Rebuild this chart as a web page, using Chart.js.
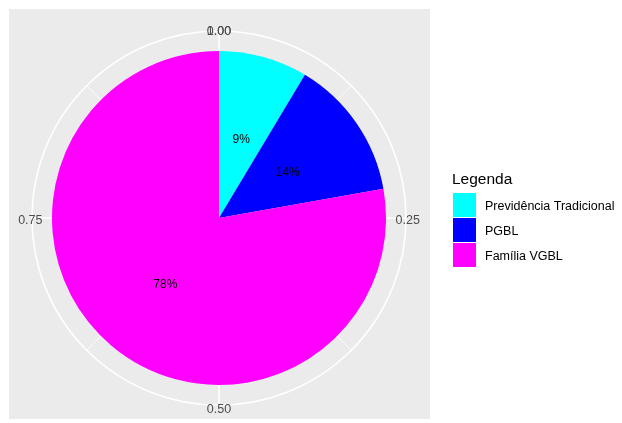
<!DOCTYPE html>
<html>
<head>
<meta charset="utf-8">
<script src="https://cdn.jsdelivr.net/npm/chart.js@4.4.1/dist/chart.umd.min.js"></script>
<style>
  html, body { margin: 0; padding: 0; background: #ffffff; }
  #wrap { width: 622px; height: 423px; position: relative; }
</style>
</head>
<body>
<div id="wrap"><canvas id="c" width="622" height="423"></canvas></div>
<script>
const categories = ["Previdência Tradicional", "PGBL", "Família VGBL"];
const shares = [8.6, 13.6, 77.8];
const percentLabels = ["9%", "14%", "78%"];
const sliceColors = ["#00FFFF", "#0000FF", "#FF00FF"];
const thetaTicks = ["0.00", "0.25", "0.50", "0.75", "1.00"];
const legendTitle = "Legenda";

const FONT = "'Liberation Sans', Arial, Helvetica, sans-serif";
const TEXT_DY = 2.5;

const ggPlugin = {
  id: 'ggpolar',
  beforeDatasetsDraw(chart) {
    const ctx = chart.ctx;
    const meta = chart.getDatasetMeta(0);
    const arc0 = meta.data[0];
    const cx = arc0.x, cy = arc0.y, R = arc0.outerRadius;
    ctx.save();
    // panel
    ctx.fillStyle = '#EBEBEB';
    ctx.fillRect(9, 9, 421, 410);
    // outer grid circle
    const Rg = R * 1.12;
    ctx.strokeStyle = '#FFFFFF';
    ctx.lineWidth = 1.6;
    ctx.beginPath();
    ctx.arc(cx, cy, Rg, 0, Math.PI * 2);
    ctx.stroke();
    // theta grid lines (major and minor)
    for (let i = 0; i < 8; i++) {
      const a = -Math.PI / 2 + i * Math.PI / 4;
      ctx.lineWidth = (i % 2 === 0) ? 1.6 : 0.8;
      ctx.beginPath();
      ctx.moveTo(cx, cy);
      ctx.lineTo(cx + Rg * Math.cos(a), cy + Rg * Math.sin(a));
      ctx.stroke();
    }
    // theta tick labels
    ctx.fillStyle = '#4D4D4D';
    ctx.font = '12.5px ' + FONT;
    ctx.textAlign = 'center';
    ctx.textBaseline = 'middle';
    const Rl = R * 1.13;
    thetaTicks.forEach((t, i) => {
      const a = -Math.PI / 2 + i * Math.PI / 2;
      ctx.fillText(t, cx + Rl * Math.cos(a), cy + Rl * Math.sin(a) + TEXT_DY);
    });
    ctx.restore();
  },
  afterDatasetsDraw(chart) {
    const ctx = chart.ctx;
    const meta = chart.getDatasetMeta(0);
    ctx.save();
    ctx.fillStyle = '#000000';
    ctx.font = '12px ' + FONT;
    ctx.textAlign = 'center';
    ctx.textBaseline = 'middle';
    meta.data.forEach((arc, i) => {
      const p = arc.tooltipPosition();
      ctx.fillText(percentLabels[i], p.x, p.y + TEXT_DY);
    });
    // legend
    ctx.textAlign = 'left';
    ctx.textBaseline = 'alphabetic';
    ctx.font = '15.5px ' + FONT;
    ctx.fillText(legendTitle, 452, 184);
    ctx.font = '12.5px ' + FONT;
    ctx.textBaseline = 'middle';
    const ds = chart.data.datasets[0];
    chart.data.labels.forEach((lab, i) => {
      const y = 193 + i * 25;
      ctx.fillStyle = ds.backgroundColor[i];
      ctx.fillRect(453, y, 23, 24);
      ctx.fillStyle = '#000000';
      ctx.fillText(lab, 485, y + 12 + 2);
    });
    ctx.restore();
  }
};

new Chart(document.getElementById('c'), {
  type: 'pie',
  data: {
    labels: categories,
    datasets: [{
      data: shares,
      backgroundColor: sliceColors,
      borderWidth: 0
    }]
  },
  options: {
    responsive: false,
    animation: false,
    layout: { padding: { left: 52, top: 51, right: 236, bottom: 38 } },
    plugins: {
      legend: { display: false },
      tooltip: { enabled: false },
      title: { display: false }
    }
  },
  plugins: [ggPlugin]
});
</script>
</body>
</html>
